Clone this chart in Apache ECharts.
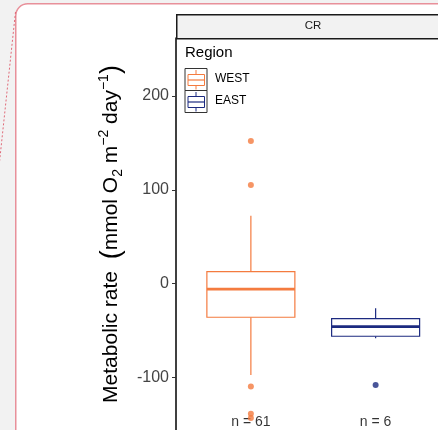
<!DOCTYPE html>
<html>
<head>
<meta charset="utf-8">
<script src="https://cdn.jsdelivr.net/npm/echarts@6/dist/echarts.min.js"></script>
<style>
  html, body { margin: 0; padding: 0; background: #f2f2f2; }
  #main { width: 438px; height: 430px; }
</style>
</head>
<body>
<div id="main"></div>
<script>
// data
var categories = ['WEST', 'EAST'];
// [lower whisker, Q1, median, Q3, upper whisker]
var westStats = [-97.6, -36, -6, 12.6, 72.3];
var eastStats = [-58.5, -56.3, -46, -37.5, -26.5];
var westOutliers = [152, 105, -110, -139, -143.5];
var eastOutliers = [-108.3];
var counts = [61, 6];
var countLabelY = -147.5;
var yTicks = [-100, 0, 100, 200];

var westColor = '#f47b3f';
var eastColor = '#1c2a80';

var myChart = echarts.init(document.getElementById('main'));

// box drawn ggplot style: no whisker caps, thick median
function boxItem(color) {
  return function (params, api) {
    var x = api.value(0);
    var lo = api.coord([x, api.value(1)]);
    var q1 = api.coord([x, api.value(2)]);
    var med = api.coord([x, api.value(3)]);
    var q3 = api.coord([x, api.value(4)]);
    var hi = api.coord([x, api.value(5)]);
    var cx = lo[0], half = 44;
    return {
      type: 'group',
      children: [
        { type: 'line', shape: { x1: cx, y1: hi[1], x2: cx, y2: q3[1] }, style: { stroke: color, lineWidth: 1.2 } },
        { type: 'line', shape: { x1: cx, y1: q1[1], x2: cx, y2: lo[1] }, style: { stroke: color, lineWidth: 1.2 } },
        { type: 'rect', shape: { x: cx - half, y: q3[1], width: half * 2, height: q1[1] - q3[1] }, style: { fill: '#fff', stroke: color, lineWidth: 1.2 } },
        { type: 'line', shape: { x1: cx - half, y1: med[1], x2: cx + half, y2: med[1] }, style: { stroke: color, lineWidth: 2.6 } }
      ]
    };
  };
}

function legendKey(y, color) {
  return {
    type: 'group', left: 184.5, top: y, z: 20,
    children: [
      { type: 'rect', shape: { x: 0, y: 0, width: 22, height: 22 }, style: { fill: '#fff', stroke: '#333', lineWidth: 1 } },
      { type: 'line', shape: { x1: 11, y1: 1.5, x2: 11, y2: 6 }, style: { stroke: color, lineWidth: 1 } },
      { type: 'line', shape: { x1: 11, y1: 17, x2: 11, y2: 21 }, style: { stroke: color, lineWidth: 1 } },
      { type: 'rect', shape: { x: 3, y: 6, width: 16.5, height: 11 }, style: { fill: '#fff', stroke: color, lineWidth: 1 } },
      { type: 'line', shape: { x1: 3, y1: 11.5, x2: 19.5, y2: 11.5 }, style: { stroke: color, lineWidth: 1.2 } }
    ]
  };
}

var option = {
  backgroundColor: '#f2f2f2',
  animation: false,
  textStyle: { fontFamily: 'Liberation Sans, Arial, sans-serif' },
  grid: { left: 188.5, top: 38, width: 249.5, height: 392, outerBoundsMode: 'none' },
  xAxis: {
    type: 'category',
    data: categories,
    show: false
  },
  yAxis: {
    type: 'value',
    min: -156.3,
    max: 261.9,
    offset: 12.5,
    name: '{a|Metabolic rate  }{p|(}{a|mmol O}{sub|2}{a| m}{sup|−2}{a| day}{sup|−1}{p|)}',
    nameLocation: 'middle',
    nameRotate: 90,
    nameGap: 45,
    nameTextStyle: {
      color: '#000',
      rich: {
        a: { fontSize: 21, lineHeight: 30, verticalAlign: 'middle', color: '#000', fontFamily: 'Liberation Sans' },
        p: { fontSize: 27, lineHeight: 30, verticalAlign: 'middle', color: '#000', fontFamily: 'Liberation Sans' },
        sub: { fontSize: 14, lineHeight: 30, verticalAlign: 'bottom', padding: [0, 0, 1, 0], color: '#000', fontFamily: 'Liberation Sans' },
        sup: { fontSize: 14, lineHeight: 30, verticalAlign: 'top', padding: [1, 0, 0, 0], color: '#000', fontFamily: 'Liberation Sans' }
      }
    },
    axisLine: { show: true, lineStyle: { color: '#000', width: 1.5 } },
    axisTick: { show: true, length: 4, lineStyle: { color: '#333', width: 1 }, customValues: yTicks },
    axisLabel: { fontSize: 16, color: '#444', margin: 7, customValues: yTicks },
    splitLine: { show: false }
  },
  graphic: [
    // page card
    { type: 'rect', left: 15, top: 3, z: -10, shape: { width: 520, height: 520, r: [12, 0, 0, 0] }, style: { fill: '#fff', stroke: '#e8909a', lineWidth: 1.5 } },
    { type: 'line', z: -9, shape: { x1: 15.5, y1: 12, x2: -0.5, y2: 162 }, style: { stroke: '#e06a78', lineWidth: 1, lineDash: [2, 2] } },
    // facet strip
    { type: 'rect', left: 176, top: 14, z: 10, shape: { width: 280, height: 24 }, style: { fill: '#f2f2f2', stroke: '#1a1a1a', lineWidth: 1.5 } },
    { type: 'text', x: 313, y: 26, z: 11, style: { text: 'CR', fontSize: 11.5, fill: '#1a1a1a', align: 'center', verticalAlign: 'middle', fontFamily: 'Liberation Sans' } },
    // legend
    { type: 'text', x: 185, y: 53, z: 20, style: { text: 'Region', fontSize: 15, fill: '#000', verticalAlign: 'middle', fontFamily: 'Liberation Sans' } },
    legendKey(67.5, westColor),
    legendKey(89.5, eastColor),
    { type: 'text', x: 215, y: 79, z: 20, style: { text: 'WEST', fontSize: 12, fill: '#000', verticalAlign: 'middle', fontFamily: 'Liberation Sans' } },
    { type: 'text', x: 215, y: 101, z: 20, style: { text: 'EAST', fontSize: 12, fill: '#000', verticalAlign: 'middle', fontFamily: 'Liberation Sans' } }
  ],
  series: [
    {
      name: 'n',
      type: 'scatter',
      symbolSize: 0,
      z: 3,
      data: counts.map(function (n, i) { return [i, countLabelY]; }),
      label: {
        show: true,
        position: 'inside',
        fontSize: 14,
        color: '#000',
        formatter: function (p) { return 'n = ' + counts[p.dataIndex]; }
      }
    },
    {
      name: 'WEST',
      type: 'custom',
      z: 4,
      renderItem: boxItem(westColor),
      encode: { x: 0, y: [1, 2, 3, 4, 5] },
      data: [[0].concat(westStats)]
    },
    {
      name: 'EAST',
      type: 'custom',
      z: 4,
      renderItem: boxItem(eastColor),
      encode: { x: 0, y: [1, 2, 3, 4, 5] },
      data: [[1].concat(eastStats)]
    },
    {
      name: 'WEST outliers',
      type: 'scatter',
      z: 5,
      symbolSize: 6,
      itemStyle: { color: westColor },
      data: westOutliers.map(function (v) { return [0, v]; })
    },
    {
      name: 'EAST outliers',
      type: 'scatter',
      z: 5,
      symbolSize: 6,
      itemStyle: { color: eastColor },
      data: eastOutliers.map(function (v) { return [1, v]; })
    }
  ]
};

myChart.setOption(option);
</script>
</body>
</html>
